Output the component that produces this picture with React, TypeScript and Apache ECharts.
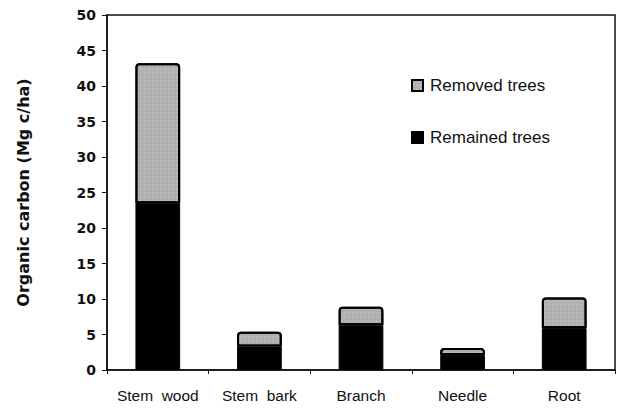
import React, { useEffect, useRef } from "react";
import * as echarts from "echarts";

const categories = ["Stem wood", "Stem bark", "Branch", "Needle", "Root"];
const remainedTrees = [23.5, 3.3, 6.3, 2.1, 5.9];
const removedTrees = [19.7, 2.1, 2.6, 1.0, 4.3];
const yTicks = [0, 5, 10, 15, 20, 25, 30, 35, 40, 45, 50];

export default function App() {
  const ref = useRef<HTMLDivElement>(null);
  useEffect(() => {
    if (!ref.current) return;
    const chart = echarts.init(ref.current, null, { renderer: "svg" });
    chart.setOption({
      animation: false,
      backgroundColor: "#fff",
      grid: {
        left: 107,
        right: 5,
        top: 15,
        bottom: 40,
        show: true,
        borderColor: "#111",
        borderWidth: 1.5,
        backgroundColor: "transparent",
      },
      legend: {
        orient: "vertical",
        left: 406,
        top: 72,
        itemGap: 35,
        itemWidth: 11,
        itemHeight: 11,
        icon: "rect",
        data: ["Removed trees", "Remained trees"],
        textStyle: {
          fontFamily: "Liberation Sans, Arial, sans-serif",
          fontSize: 17,
          color: "#111",
          padding: [0, 0, 0, 2],
        },
      },
      xAxis: {
        type: "category",
        data: categories,
        axisLine: { lineStyle: { color: "#111", width: 1.5 } },
        axisTick: { show: true, length: 4, lineStyle: { color: "#111" } },
        axisLabel: {
          interval: 0,
          hideOverlap: false,
          margin: 17,
          fontFamily: "Liberation Sans, Arial, sans-serif",
          fontSize: 15.5,
          color: "#111",
          formatter: (v: string) => v.replace(" ", "  "),
        },
      },
      yAxis: {
        type: "value",
        min: yTicks[0],
        max: yTicks[yTicks.length - 1],
        interval: 5,
        name: "Organic carbon (Mg c/ha)",
        nameLocation: "middle",
        nameGap: 76,
        nameTextStyle: {
          fontFamily: "DejaVu Sans, Verdana, sans-serif",
          fontSize: 16,
          fontWeight: "bold",
          color: "#111",
        },
        axisLine: { show: true, lineStyle: { color: "#111", width: 1.5 } },
        axisTick: { show: true, length: 5, lineStyle: { color: "#111" } },
        splitLine: { show: false },
        axisLabel: {
          margin: 11,
          fontFamily: "DejaVu Sans, Verdana, sans-serif",
          fontSize: 14,
          fontWeight: "bold",
          color: "#111",
        },
      },
      series: [
        {
          name: "Remained trees",
          type: "bar",
          stack: "total",
          barWidth: "44%",
          data: remainedTrees,
          itemStyle: { color: "#000", borderColor: "#000", borderWidth: 1 },
        },
        {
          name: "Removed trees",
          type: "bar",
          stack: "total",
          barWidth: "44%",
          data: removedTrees,
          itemStyle: {
            color: "#b0b0b0",
            borderColor: "#000",
            borderWidth: 2,
            borderRadius: [3, 3, 0, 0],
            decal: {
              symbol: "rect",
              symbolSize: 0.5,
              color: "rgba(255,255,255,0.55)",
              dashArrayX: [2, 2],
              dashArrayY: [2, 2],
              rotation: 0,
            },
          },
        },
      ],
    });
    return () => chart.dispose();
  }, []);
  return <div ref={ref} style={{ width: 620, height: 410, position: "absolute", left: 0, top: 0 }} />;
}
